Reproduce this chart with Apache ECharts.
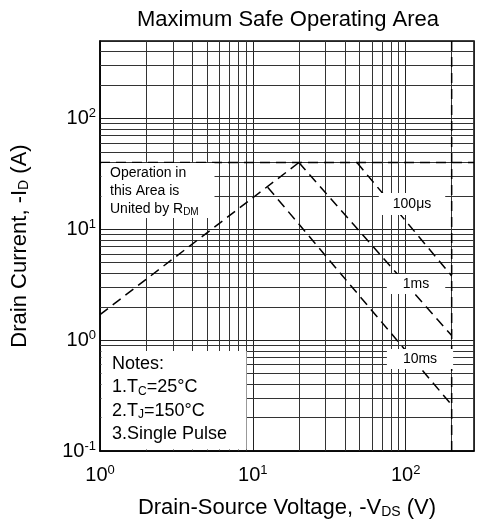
<!DOCTYPE html>
<html>
<head>
<meta charset="utf-8">
<script src="https://cdn.jsdelivr.net/npm/echarts@6/dist/echarts.min.js"></script>
<style>
  html, body { margin: 0; padding: 0; background: #fff; }
  #soa { width: 480px; height: 521px; }
</style>
</head>
<body>
<div id="soa"></div>
<script>
// axis ranges
var xMin = 1, xMax = 280;
var yMin = 0.1, yMax = 500;

// minor grid lines (decades come from splitLine)
var xGridValues = [2, 3, 4, 5, 6, 7, 8, 9, 20, 30, 40, 50, 60, 70, 80, 90, 200];
var yGridValues = [0.2, 0.3, 0.4, 0.5, 0.6, 0.7, 0.8, 0.9, 2, 3, 4, 5, 6, 7, 8, 9,
    20, 30, 40, 50, 60, 70, 80, 90, 200, 300, 400];

// SOA boundaries [-Vds (V), -Id (A)]
var currentLimit = [[1, 40], [280, 40]];
var voltageLimit = [[200, 0.1], [200, 500]];
var rdsLimit = [[1, 1.7], [20, 40]];
var pulse100us = [[48, 40], [200, 3.8]];
var pulse1ms = [[20, 40], [200, 1.1]];
var pulse10ms = [[12.5, 24], [200, 0.26]];

var FONT = "'Liberation Sans', Arial, sans-serif";

function dashed(name, data) {
    return {
        name: name,
        type: 'line',
        data: data,
        symbol: 'none',
        silent: true,
        z: 5,
        lineStyle: { color: '#000', width: 1.5, type: [10, 6] }
    };
}

function supLabel(v) {
    var e = Math.round(Math.log10(v));
    return '10{sup|' + e + '}';
}

var chart = echarts.init(document.getElementById('soa'));
chart.setOption({
    animation: false,
    backgroundColor: '#fff',
    title: {
        text: 'Maximum Safe Operating Area',
        left: 283,
        top: 4,
        textAlign: 'center',
        textStyle: { fontFamily: FONT, fontSize: 22, fontWeight: 'normal', color: '#000' }
    },
    grid: {
        left: 100, right: 6, top: 41, bottom: 70,
        outerBoundsMode: 'none',
        show: true, borderColor: '#000', borderWidth: 1.5, backgroundColor: '#fff'
    },
    xAxis: {
        type: 'log',
        logBase: 10,
        min: xMin,
        max: xMax,
        name: 'Drain-Source Voltage, -V{sub|DS} (V)',
        nameLocation: 'middle',
        nameGap: 46,
        nameTextStyle: {
            fontFamily: FONT, fontSize: 22, color: '#000',
            rich: { sub: { fontFamily: FONT, fontSize: 14, color: '#000', padding: [8, 0, 0, 0] } }
        },
        axisLine: { lineStyle: { color: '#000', width: 1.5 } },
        axisTick: { show: false },
        axisLabel: {
            showMaxLabel: false,
            margin: 13,
            fontFamily: FONT, fontSize: 20, color: '#000',
            formatter: supLabel,
            rich: { sup: { fontFamily: FONT, fontSize: 13, color: '#000', padding: [0, 0, 10, 0] } }
        },
        splitLine: { show: true, lineStyle: { color: '#222', width: 1 } }
    },
    yAxis: {
        type: 'log',
        logBase: 10,
        min: yMin,
        max: yMax,
        name: 'Drain Current, -I{sub|D} (A)',
        nameLocation: 'middle',
        nameRotate: 90,
        nameGap: 69,
        nameTextStyle: {
            fontFamily: FONT, fontSize: 22, color: '#000',
            rich: { sub: { fontFamily: FONT, fontSize: 14, color: '#000', padding: [8, 0, 0, 0] } }
        },
        axisLine: { lineStyle: { color: '#000', width: 1.5 } },
        axisTick: { show: false },
        axisLabel: {
            showMaxLabel: false,
            margin: 4,
            fontFamily: FONT, fontSize: 20, color: '#000',
            formatter: supLabel,
            rich: { sup: { fontFamily: FONT, fontSize: 13, color: '#000', padding: [0, 0, 10, 0] } }
        },
        splitLine: { show: true, lineStyle: { color: '#222', width: 1 } }
    },
    series: [
        {
            name: 'grid',
            type: 'line',
            data: [],
            silent: true,
            markLine: {
                silent: true,
                symbol: 'none',
                label: { show: false },
                lineStyle: { color: '#333', width: 1, type: 'solid' },
                data: xGridValues.map(function (v) { return { xAxis: v }; })
                    .concat(yGridValues.map(function (v) { return { yAxis: v }; }))
            }
        },
        dashed('Id limit', currentLimit),
        dashed('Vds limit', voltageLimit),
        dashed('Rds(on) limit', rdsLimit),
        dashed('100us', pulse100us),
        dashed('1ms', pulse1ms),
        dashed('10ms', pulse10ms)
    ],
    graphic: [
        {
            type: 'rect', z: 100,
            shape: { x: 101.5, y: 163, width: 113, height: 55 },
            style: { fill: '#fff' }
        },
        {
            type: 'text', z: 101, x: 110, y: 164,
            style: {
                text: 'Operation in\nthis Area is\nUnited by R{sub|DM}',
                font: '14px ' + FONT, fill: '#000', lineHeight: 18,
                rich: { sub: { fontFamily: FONT, fontSize: 10, fill: '#000', padding: [6, 0, 0, 0] } }
            }
        },
        {
            type: 'rect', z: 100,
            shape: { x: 101.5, y: 351, width: 145, height: 98.5 },
            style: { fill: '#fff' }
        },
        {
            type: 'text', z: 101, x: 112, y: 352,
            style: {
                text: 'Notes:\n1.T{sub|C}=25°C\n2.T{sub|J}=150°C\n3.Single Pulse',
                font: '18px ' + FONT, fill: '#000', lineHeight: 23.5,
                rich: { sub: { fontFamily: FONT, fontSize: 12, fill: '#000', padding: [8, 0, 0, 0] } }
            }
        },
        {
            type: 'text', x: 412, y: 204, z: 100,
            style: {
                text: '100μs', font: '14px ' + FONT, fill: '#000', align: 'center', verticalAlign: 'middle',
                backgroundColor: '#fff', padding: [4, 14, 4, 14]
            }
        },
        {
            type: 'text', x: 416, y: 284, z: 100,
            style: {
                text: '1ms', font: '14px ' + FONT, fill: '#000', align: 'center', verticalAlign: 'middle',
                backgroundColor: '#fff', padding: [3, 16, 3, 16]
            }
        },
        {
            type: 'text', x: 420, y: 359, z: 100,
            style: {
                text: '10ms', font: '14px ' + FONT, fill: '#000', align: 'center', verticalAlign: 'middle',
                backgroundColor: '#fff', padding: [3, 16, 3, 16]
            }
        }
    ]
});
</script>
</body>
</html>
